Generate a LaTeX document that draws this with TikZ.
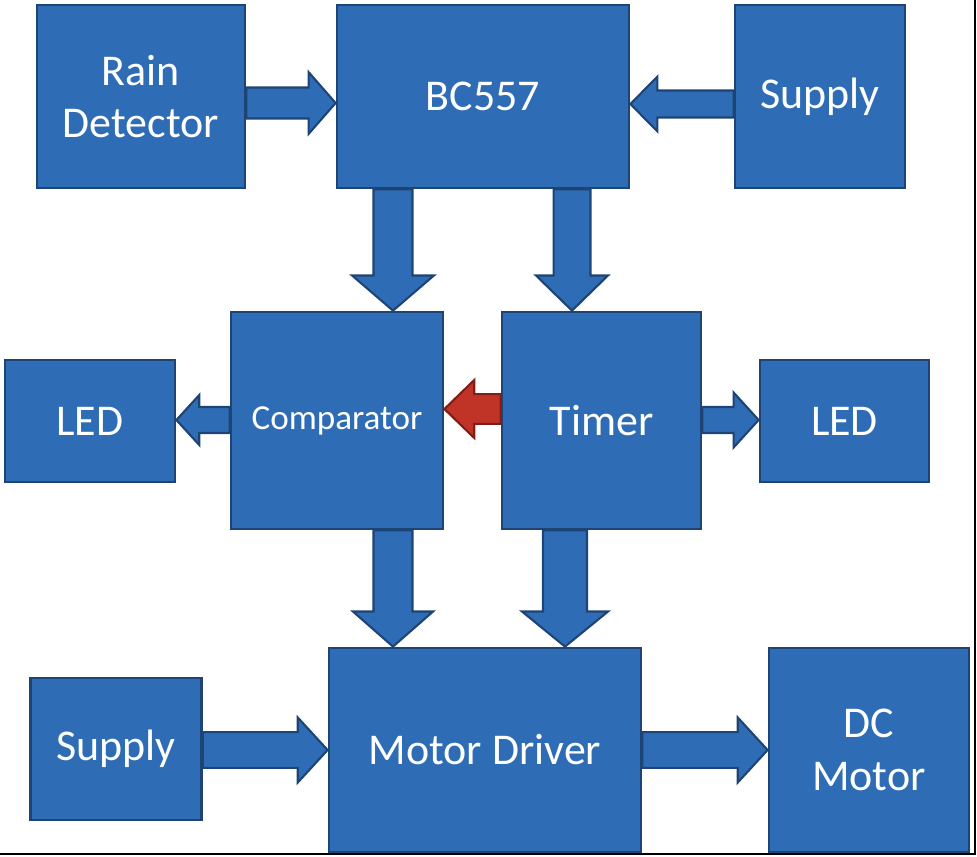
\documentclass[tikz,border=0pt]{standalone}
\usepackage{fontspec}
\setmainfont{Carlito}
\usetikzlibrary{calc}
\definecolor{boxblue}{RGB}{46,109,181}
\definecolor{boxedge}{RGB}{30,68,118}
\definecolor{redfill}{RGB}{192,52,40}
\definecolor{rededge}{RGB}{130,28,22}
\newcommand{\fatarrow}[6][]{%
  \coordinate (hb) at ($(#3)!#6!(#2)$);
  \draw[fat,#1] ($(#2)!#4!90:(#3)$) -- ($(hb)!#4!90:(#3)$) -- ($(hb)!#5!90:(#3)$) -- (#3)
    -- ($(hb)!#5!-90:(#3)$) -- ($(hb)!#4!-90:(#3)$) -- ($(#2)!#4!-90:(#3)$) -- cycle;}
\begin{document}
\begin{tikzpicture}[x=0.02cm,y=-0.02cm,
    box/.style={draw=boxedge,fill=boxblue,line width=1.6pt,text=white,align=center,font=\fontsize{25}{30}\selectfont},
    fat/.style={draw=boxedge,fill=boxblue,line width=1.2pt,line join=miter},
    redarrow/.style={draw=rededge,fill=redfill}]
  \useasboundingbox (0,0) rectangle (977,856);
  \node[box,minimum width=4.16cm,minimum height=3.66cm] (rain) at (141,96.5) {Rain\\Detector};
  \node[box,minimum width=5.84cm,minimum height=3.66cm] (bc) at (483,96.5) {BC557};
  \node[box,minimum width=3.4cm,minimum height=3.66cm] (supa) at (820,96.5) {Supply};
  \node[box,minimum width=4.24cm,minimum height=4.34cm,font=\fontsize{20}{24}\selectfont] (comp) at (337,420.5) {Comparator};
  \node[box,minimum width=3.98cm,minimum height=4.34cm] (timer) at (601.5,420.5) {Timer};
  \node[box,minimum width=3.4cm,minimum height=2.44cm] (leda) at (90,421) {LED};
  \node[box,minimum width=3.38cm,minimum height=2.44cm] (ledb) at (844.5,421) {LED};
  \node[box,minimum width=3.42cm,minimum height=2.84cm] (supb) at (116,749) {Supply};
  \node[box,minimum width=6.24cm,minimum height=4.08cm] (motor) at (485,750) {Motor Driver};
  \node[box,minimum width=4cm,minimum height=4.08cm] (dc) at (869,750) {DC\\Motor};
  \fatarrow{rain.east |- 0,103}{bc.west |- 0,103}{8.8pt}{17.6pt}{15.4pt}
  \fatarrow{supa.west |- 0,104}{bc.east |- 0,104}{7.7pt}{15.6pt}{15.4pt}
  \fatarrow{bc.south -| 393,0}{comp.north -| 393,0}{11.1pt}{23.3pt}{20pt}
  \fatarrow{bc.south -| 572,0}{timer.north -| 572,0}{10.5pt}{20.5pt}{20pt}
  \fatarrow[redarrow]{timer.west |- 0,409}{comp.east |- 0,409}{8.5pt}{16.5pt}{17pt}
  \fatarrow{comp.west |- 0,420}{leda.east |- 0,420}{7.4pt}{14.2pt}{13pt}
  \fatarrow{timer.east |- 0,420}{ledb.west |- 0,420}{7.4pt}{15.6pt}{14.2pt}
  \fatarrow{comp.south -| 393,0}{motor.north -| 393,0}{11.1pt}{22.8pt}{20pt}
  \fatarrow{timer.south -| 565,0}{motor.north -| 565,0}{12.5pt}{24.5pt}{20pt}
  \fatarrow{supb.east |- 0,750}{motor.west |- 0,750}{10.2pt}{18.5pt}{17pt}
  \fatarrow{motor.east |- 0,750}{dc.west |- 0,750}{10.2pt}{18.5pt}{17pt}
  \draw[line width=1.2pt] (0,854) -- (975,854) -- (975,0);
\end{tikzpicture}
\end{document}
